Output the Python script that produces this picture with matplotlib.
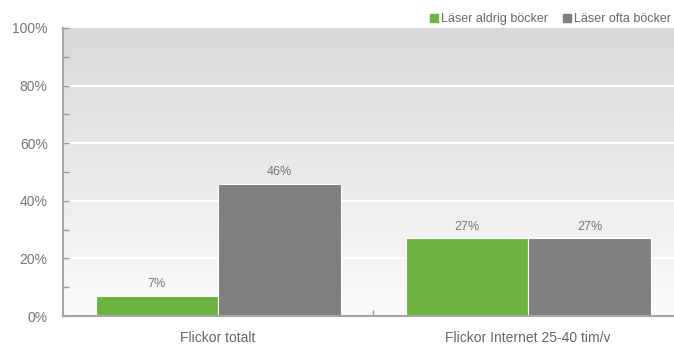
import numpy as np
import matplotlib
matplotlib.use("Agg")
import matplotlib.pyplot as plt
from matplotlib.lines import Line2D
from matplotlib.colors import LinearSegmentedColormap

plt.rcParams['font.family'] = ['Liberation Sans', 'DejaVu Sans']

categories = ["Flickor totalt", "Flickor Internet 25-40 tim/v"]
series_names = ["Läser aldrig böcker", "Läser ofta böcker"]
aldrig = [7, 27]
ofta = [46, 27]
colors = ["#6db33f", "#7f7f7f"]
yticks = [0, 20, 40, 60, 80, 100]

fig = plt.figure(figsize=(6.74, 3.45), dpi=100)
ax = fig.add_axes([0.0935, 0.084, 0.9065, 0.835])

# gradient background
grad = np.linspace(0, 1, 256).reshape(-1, 1)
cmap = LinearSegmentedColormap.from_list("bg", ["#fbfbfb", "#d9d9d9"])
ax.imshow(grad, extent=[-0.5, 1.47, 0, 100], origin="lower", aspect="auto",
          cmap=cmap, zorder=0)

for y in yticks[1:-1]:
    ax.axhline(y, color="white", lw=1.5, zorder=1)

x = np.arange(len(categories))
w = 0.395
for i, (vals, c) in enumerate(zip([aldrig, ofta], colors)):
    pos = x + (i - 0.5) * w
    bars = ax.bar(pos, vals, width=w, color=c, edgecolor="white",
                  linewidth=0.8, zorder=2)
    for b, v in zip(bars, vals):
        ax.annotate(f"{v}%", (b.get_x() + b.get_width() / 2, v),
                    xytext=(0, 4), textcoords="offset points",
                    ha="center", va="bottom", fontsize=9, color="#777777")

ax.set_xlim(-0.5, 1.47)
ax.set_ylim(0, 100)
ax.set_yticks(yticks)
ax.set_yticklabels([f"{t}%" for t in yticks])
ax.set_yticks(range(10, 100, 20), minor=True)
ax.set_xticks(x)
ax.set_xticklabels(categories)
ax.set_xticks([0.5], minor=True)

ax.tick_params(axis="y", which="both", direction="in", length=4, width=1,
               color="#999999", labelsize=10, labelcolor="#777777", pad=11)
ax.tick_params(axis="x", which="major", length=0, labelsize=10,
               labelcolor="#666666", pad=11)
ax.tick_params(axis="x", which="minor", direction="in", length=4, width=1,
               color="#999999")

for s in ["top", "right"]:
    ax.spines[s].set_visible(False)
for s in ["left", "bottom"]:
    ax.spines[s].set_color("#a6a6a6")
    ax.spines[s].set_linewidth(1.5)
    ax.spines[s].set_zorder(3)

handles = [Line2D([], [], marker="s", ls="", color=c, markersize=6) for c in colors]
ax.legend(handles, series_names, loc="lower right", bbox_to_anchor=(1.0, 1.0),
          ncol=2, frameon=False, fontsize=9, labelcolor="#666666",
          handlelength=0.6, handletextpad=0.3, columnspacing=1.2,
          borderaxespad=0.1, borderpad=0.1)

fig.savefig("out.png", dpi=100)
